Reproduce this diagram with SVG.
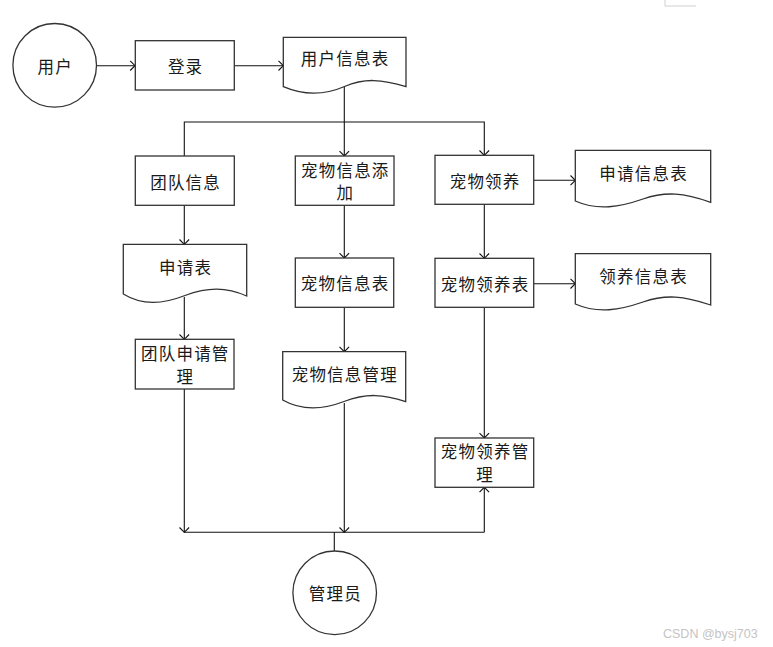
<svg xmlns="http://www.w3.org/2000/svg" width="773" height="647" viewBox="0 0 773 647">
<style>
.shape{fill:#fff;stroke:#333;stroke-width:1.3}
.conn{fill:none;stroke:#111;stroke-width:1.1}
.lbl{font-family:"Noto Sans CJK SC","Liberation Serif",serif;font-size:16.5px;letter-spacing:1.2px;fill:#1a1a1a;text-anchor:middle;dominant-baseline:central}
.wm{font-family:"Liberation Sans",Arial,sans-serif;font-size:12.5px;fill:#c4c4c4}
</style>
<defs>
<marker id="arr" viewBox="-6 -6 7 12" markerWidth="7" markerHeight="12" refX="0" refY="0" orient="auto" markerUnits="userSpaceOnUse">
<path d="M-4.8,-4.8 L0,0 L-4.8,4.8" fill="none" stroke="#111" stroke-width="1.1"/>
</marker>
</defs>
<rect width="773" height="647" fill="#fff"/>
<polyline points="665,0 665,6 696,6" fill="none" stroke="#d0d0d0" stroke-width="1"/>
<g id="connectors">
<line class="conn" x1="97" y1="65.7" x2="135" y2="65.7" marker-end="url(#arr)"/>
<line class="conn" x1="234.3" y1="65.7" x2="283.3" y2="65.7" marker-end="url(#arr)"/>
<line class="conn" x1="344.3" y1="87" x2="344.3" y2="156" marker-end="url(#arr)"/>
<polyline class="conn" points="184.3,156 184.3,122 484.3,122 484.3,155.3" marker-end="url(#arr)"/>
<line class="conn" x1="184.3" y1="205.3" x2="184.3" y2="244.3" marker-end="url(#arr)"/>
<line class="conn" x1="184.3" y1="297" x2="184.3" y2="339.3" marker-end="url(#arr)"/>
<line class="conn" x1="344.3" y1="205.3" x2="344.3" y2="258" marker-end="url(#arr)"/>
<line class="conn" x1="344.3" y1="307.3" x2="344.3" y2="351.7" marker-end="url(#arr)"/>
<line class="conn" x1="533.7" y1="180.3" x2="575.3" y2="180.3" marker-end="url(#arr)"/>
<line class="conn" x1="484.3" y1="204.3" x2="484.3" y2="258.3" marker-end="url(#arr)"/>
<line class="conn" x1="533.7" y1="283.7" x2="575.3" y2="283.7" marker-end="url(#arr)"/>
<line class="conn" x1="484.3" y1="307.3" x2="484.3" y2="438" marker-end="url(#arr)"/>
<line class="conn" x1="184.3" y1="389" x2="184.3" y2="532.3" marker-end="url(#arr)"/>
<line class="conn" x1="344.3" y1="403" x2="344.3" y2="532.3" marker-end="url(#arr)"/>
<line class="conn" x1="184.3" y1="532.3" x2="484.3" y2="532.3"/>
<line class="conn" x1="484.3" y1="532.3" x2="484.3" y2="487.3" marker-end="url(#arr)"/>
<line class="conn" x1="334.3" y1="532.3" x2="334.3" y2="551"/>
</g>
<g id="user">
<circle class="shape" cx="54.7" cy="65.3" r="41.8"/>
<text class="lbl" x="55.3" y="66">用户</text>
</g>
<g id="login">
<rect class="shape" x="135.3" y="40.7" width="99" height="49.3"/>
<text class="lbl" x="185.6" y="66">登录</text>
</g>
<g id="user-info-table">
<path class="shape" d="M283.3,37.3 H406 V86.7 C382,79 364,78 344.5,86.5 C325,95 305,96 283.3,86.7 Z"/>
<text class="lbl" x="345.1" y="58.3">用户信息表</text>
</g>
<g id="team-info">
<rect class="shape" x="135.3" y="156" width="99" height="49.3"/>
<text class="lbl" x="185.6" y="182">团队信息</text>
</g>
<g id="pet-info-add">
<rect class="shape" x="295.3" y="156" width="98.7" height="49.3"/>
<text class="lbl" x="345.3" y="170">宠物信息添</text>
<text class="lbl" x="345.3" y="192">加</text>
</g>
<g id="pet-adopt">
<rect class="shape" x="435" y="155.3" width="98.7" height="49"/>
<text class="lbl" x="485.1" y="181">宠物领养</text>
</g>
<g id="apply-info-table">
<path class="shape" d="M575.3,150.3 H710.7 V202.3 C684,193 666,191 643,199 C620,207 598,211 575.3,201 Z"/>
<text class="lbl" x="643.6" y="172.7">申请信息表</text>
</g>
<g id="apply-table">
<path class="shape" d="M123.3,244.3 H246.7 V296 C226,287 208,287 185,295.5 C163,304 143,306 123.3,294 Z"/>
<text class="lbl" x="185.6" y="266.7">申请表</text>
</g>
<g id="pet-info-table">
<rect class="shape" x="295.3" y="258" width="98.4" height="49.3"/>
<text class="lbl" x="345.1" y="282.7">宠物信息表</text>
</g>
<g id="pet-adopt-table">
<rect class="shape" x="435" y="258.3" width="98.7" height="49"/>
<text class="lbl" x="485.1" y="284">宠物领养表</text>
</g>
<g id="adopt-info-table">
<path class="shape" d="M575.3,253.7 H710.7 V305 C684,296 666,294 643,302 C620,310 598,314 575.3,304 Z"/>
<text class="lbl" x="643.6" y="276">领养信息表</text>
</g>
<g id="team-apply-mgmt">
<rect class="shape" x="135.3" y="339.3" width="98.7" height="49.7"/>
<text class="lbl" x="185.3" y="352.5">团队申请管</text>
<text class="lbl" x="185.3" y="375.5">理</text>
</g>
<g id="pet-info-mgmt">
<path class="shape" d="M282.7,351.7 H405.7 V401.7 C384,394 366,393 344,401.5 C322,410 302,411 282.7,400 Z"/>
<text class="lbl" x="344.8" y="374">宠物信息管理</text>
</g>
<g id="pet-adopt-mgmt">
<rect class="shape" x="435" y="438" width="98.7" height="49.3"/>
<text class="lbl" x="485.1" y="451">宠物领养管</text>
<text class="lbl" x="485.1" y="473.5">理</text>
</g>
<g id="admin">
<circle class="shape" cx="334.7" cy="592.8" r="41.8"/>
<text class="lbl" x="335.3" y="593">管理员</text>
</g>
<text class="wm" x="663" y="638">CSDN @bysj703</text>
</svg>
